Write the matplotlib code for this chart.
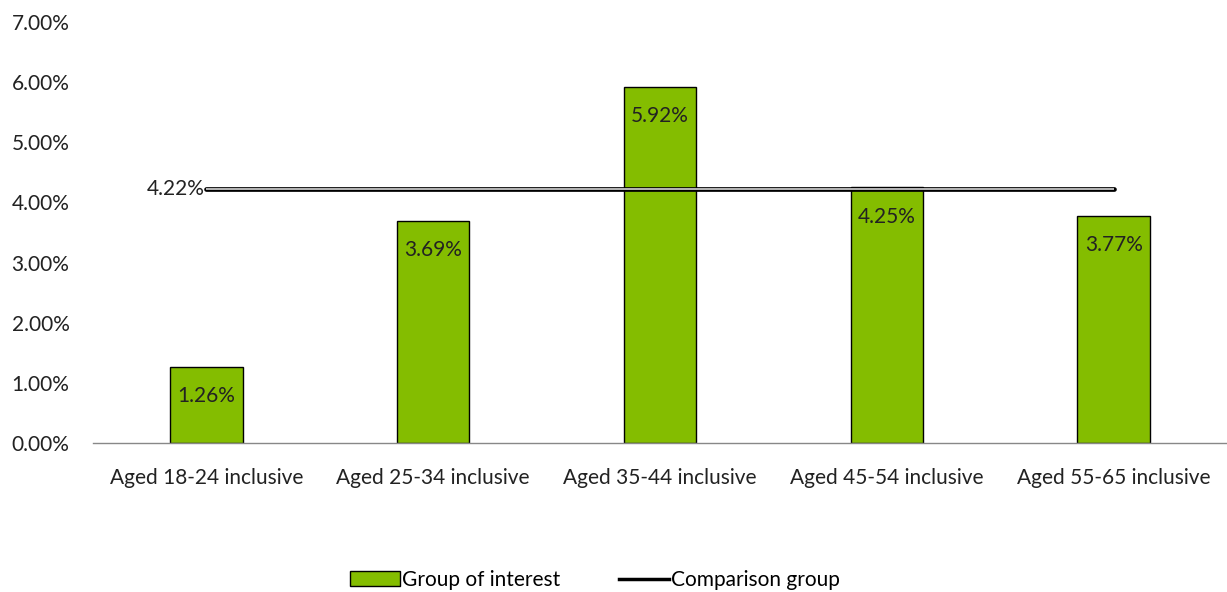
import matplotlib.pyplot as plt
from matplotlib.lines import Line2D
from matplotlib.patches import Patch
from matplotlib.ticker import FuncFormatter

plt.rcParams['font.family'] = ['Lato', 'DejaVu Sans']

categories = ["Aged 18-24 inclusive", "Aged 25-34 inclusive", "Aged 35-44 inclusive",
              "Aged 45-54 inclusive", "Aged 55-65 inclusive"]
group_values = [1.26, 3.69, 5.92, 4.25, 3.77]
comparison_value = 4.22

green = "#84BD00"
fs = 15

fig = plt.figure(figsize=(12.27, 5.92), dpi=100)
ax = fig.add_axes([93 / 1227, 1 - 443 / 592, 1 - 93 / 1227, (443 - 22) / 592])

x = list(range(len(categories)))
ax.bar(x, group_values, width=0.32, color=green, edgecolor="black", linewidth=1, zorder=2)

for xi, v in zip(x, group_values):
    ax.annotate(f"{v:.2f}%", (xi, v), xytext=(0, -21), textcoords="offset points",
                ha="center", va="center", fontsize=fs, color="#222222", zorder=5)

# comparison line: black outline with grey core
comp = [comparison_value] * len(categories)
ax.plot(x, comp, color="black", linewidth=3.4, zorder=3, solid_capstyle="round")
ax.plot(x, comp, color="#b8b8b8", linewidth=1.4, zorder=4, solid_capstyle="butt")
ax.annotate(f"{comparison_value:.2f}%", (x[0], comparison_value), xytext=(-1, 0),
            textcoords="offset points", ha="right", va="center", fontsize=fs, color="#222222")

ax.set_xlim(-0.5, len(categories) - 0.5)
ax.set_ylim(0, 7)
ax.set_yticks([0, 1, 2, 3, 4, 5, 6, 7])
ax.yaxis.set_major_formatter(FuncFormatter(lambda v, p: f"{v:.2f}%"))
ax.set_xticks(x)
ax.set_xticklabels(categories)
ax.tick_params(axis="both", length=0, labelsize=fs, labelcolor="#222222")
ax.tick_params(axis="x", pad=18)
ax.tick_params(axis="y", pad=17)

for s in ["top", "right", "left"]:
    ax.spines[s].set_visible(False)
ax.spines["bottom"].set_color("#888888")
ax.spines["bottom"].set_linewidth(1)

handles = [Patch(facecolor=green, edgecolor="black", linewidth=1),
           Line2D([0], [0], color="black", linewidth=2.5)]
fig.legend(handles, ["Group of interest", "Comparison group"], loc="center",
           bbox_to_anchor=(0.485, 1 - 580 / 592), ncol=2, frameon=False,
           fontsize=fs, handlelength=2.4, handleheight=0.7, handletextpad=0.1,
           columnspacing=2.8)

fig.savefig("out.png", dpi=100)
